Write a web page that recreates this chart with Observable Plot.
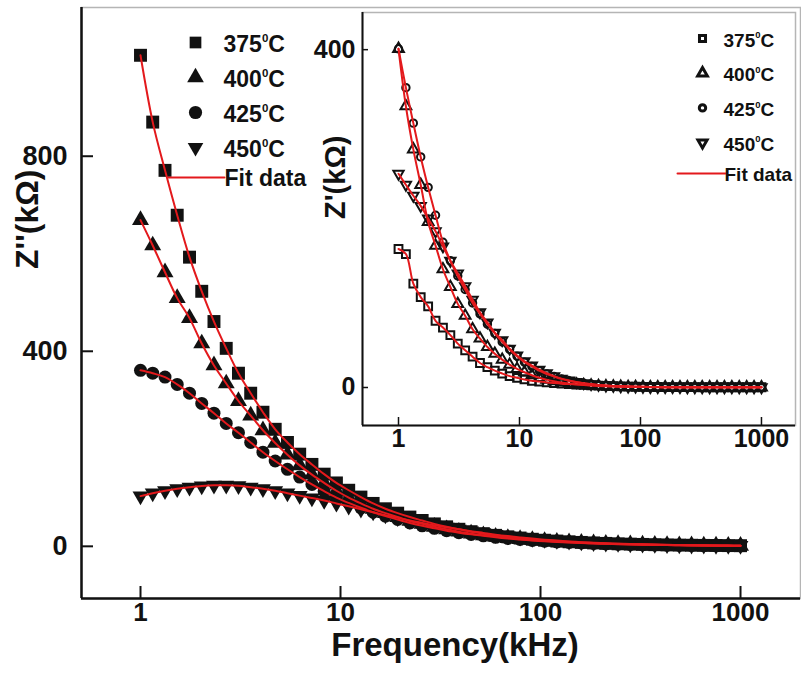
<!DOCTYPE html>
<html><head><meta charset="utf-8">
<script src="https://cdn.jsdelivr.net/npm/d3@7"></script>
<script src="https://cdn.jsdelivr.net/npm/@observablehq/plot@0.6"></script>
<style>
body{margin:0;background:#fff;}
#wrap{position:relative;width:801px;height:677px;overflow:hidden;background:#fff;}
#main,#inset{position:absolute;top:0;}
#main{left:0;} #inset{left:300px;}
</style></head><body><div id="wrap"><div id="main"></div><div id="inset"></div></div>
<script>
// ---------- data ----------
const freq = [1, 1.151, 1.326, 1.526, 1.758, 2.024, 2.330, 2.683, 3.089, 3.556, 4.095, 4.715, 5.429, 6.251, 7.197, 8.286, 9.541, 10.99, 12.65, 14.56, 16.77, 19.31, 22.23, 25.60, 29.47, 33.93, 39.07, 44.98, 51.79, 59.64, 68.66, 79.06, 91.03, 104.8, 120.7, 138.9, 160.0, 184.2, 212.1, 244.2, 281.2, 323.7, 372.8, 429.2, 494.2, 569.0, 655.1, 754.3, 868.5, 1000];
const seriesNames = ["375⁰C", "400⁰C", "425⁰C", "450⁰C"];
const fitLabel = "Fit data";

// Z'' (main panel), kΩ
const zImag375 = [1007, 870, 771, 679, 593, 523, 461, 406, 355, 314, 275, 240, 213, 189, 168, 148, 130, 115, 101, 88, 77, 68, 60, 53, 46, 40, 35, 30, 26, 22.5, 19.5, 17, 14.5, 12.5, 10.8, 9.3, 8, 7, 6, 5.2, 4.5, 3.9, 3.4, 2.9, 2.5, 2.2, 1.9, 1.7, 1.5, 1.3];
const zImag400 = [669, 617, 562, 509, 468, 416, 371, 334, 298, 268, 238, 212, 188, 166, 147, 130, 114, 100, 88, 77, 68, 60, 52, 46, 40, 35, 30, 26, 22.5, 19.5, 17, 14.7, 12.7, 11, 9.5, 8.2, 7.1, 6.2, 5.4, 4.7, 4.1, 3.5, 3.0, 2.6, 2.3, 2.0, 1.7, 1.5, 1.3, 1.1];
const zImag425 = [361, 355, 347, 332, 314, 293, 273, 252, 233, 213, 193, 175, 158, 142, 127, 113, 100, 89, 79, 70, 62, 55, 48, 42, 37, 32, 28, 24.5, 21.5, 18.5, 16, 14, 12, 10.4, 9, 7.8, 6.8, 5.9, 5.1, 4.4, 3.8, 3.3, 2.9, 2.5, 2.2, 1.9, 1.6, 1.4, 1.2, 1.1];
const zImag450 = [103, 109, 114, 118, 121, 123.5, 125, 125, 124, 121, 118, 114, 109, 104, 99, 94, 88, 82, 76, 70, 64, 58.5, 53, 48, 43, 39, 35, 31, 27.5, 24, 21, 18.3, 15.8, 13.6, 11.7, 10, 8.6, 7.4, 6.4, 5.5, 4.7, 4.1, 3.5, 3, 2.6, 2.3, 2, 1.7, 1.5, 1.3];

// Z' (inset), kΩ
const zReal375 = [164, 158, 123, 107, 96, 79, 71, 62, 52, 44, 36.5, 29, 24, 20, 16.5, 13.5, 11.5, 9.5, 8, 7, 6, 5.2, 4.5, 4, 3.5, 3, 2.6, 2.2, 1.9, 1.6, 1.3, 1.1, 0.9, 0.8, 0.7, 0.6, 0.5, 0.5, 0.4, 0.4, 0.4, 0.3, 0.3, 0.3, 0.3, 0.3, 0.3, 0.3, 0.3, 0.3];
const zReal400 = [401, 333, 282, 240, 196, 168, 140, 119, 99, 85, 69, 58, 48, 40, 33, 27, 22, 18, 14.5, 11.5, 9.3, 7.4, 5.9, 4.7, 3.7, 2.9, 2.3, 1.8, 1.4, 1.1, 0.9, 0.7, 0.6, 0.5, 0.4, 0.3, 0.3, 0.3, 0.2, 0.2, 0.2, 0.2, 0.2, 0.2, 0.2, 0.2, 0.2, 0.2, 0.2, 0.2];
const zReal425 = [401, 355, 313, 273, 237, 204, 172, 150, 132, 116, 100, 87, 75, 64, 54, 45, 37, 30, 25, 20, 16, 13, 10.2, 8, 6.3, 5, 3.9, 3, 2.3, 1.8, 1.4, 1.1, 0.9, 0.7, 0.6, 0.5, 0.4, 0.4, 0.4, 0.3, 0.3, 0.3, 0.3, 0.3, 0.3, 0.3, 0.3, 0.3, 0.3, 0.3];
const zReal450 = [253, 240, 227, 215, 200, 185, 167, 150, 135, 120, 104, 89, 77, 65, 56, 46, 38, 31, 26, 21, 17, 13.5, 10.5, 8.3, 6.5, 5.1, 4, 3.1, 2.4, 1.9, 1.5, 1.2, 1, 0.8, 0.6, 0.5, 0.4, 0.4, 0.4, 0.3, 0.3, 0.3, 0.3, 0.3, 0.3, 0.3, 0.3, 0.3, 0.3, 0.3];

const xTicks = [1, 10, 100, 1000];
const mainYTicks = [0, 400, 800];
const insetYTicks = [0, 400];
const mainXDomain = [0.507, 1995];
const mainYDomain = [-107, 1105];
const insetXDomain = [0.504, 1911];
const insetYDomain = [-45, 444];

// ---------- helpers ----------
const RED = "#e3191c";
const INK = "#111";
const FONT = "'Liberation Sans', Arial, sans-serif";
const sqrt3 = Math.sqrt(3);
const invTriangle = {draw(ctx, size) {
  const y = -Math.sqrt(size / (sqrt3 * 3));
  ctx.moveTo(0, -2 * y); ctx.lineTo(-sqrt3 * y, y); ctx.lineTo(sqrt3 * y, y); ctx.closePath();
}};
const hLine = {draw(ctx, l) { ctx.moveTo(0, 0); ctx.lineTo(0, -l); }};
const symbols = ["square", "triangle", "circle", invTriangle];
const rows = (vals, s) => freq.map((f, i) => ({f, z: vals[i], s}));
const mainSets = [zImag375, zImag400, zImag425, zImag450].map((v, k) => rows(v, seriesNames[k]));
const insetSets = [zReal375, zReal400, zReal425, zReal450].map((v, k) => rows(v, seriesNames[k]));

function legendMarks(o) {
  const m = [];
  seriesNames.forEach((name, k) => {
    m.push(Plot.dot([name], {frameAnchor: "top-left", dx: o.symX, dy: o.y0 + k * o.step,
      symbol: symbols[k], r: o.r[k], ...o.dotStyle}));
    m.push(Plot.text([name], {frameAnchor: "top-left", dx: o.textX, dy: o.y0 + k * o.step + 2,
      text: d => d, textAnchor: "start", lineAnchor: "middle", fontSize: o.fontSize, fontWeight: "bold", fill: INK}));
  });
  m.push(Plot.vector([fitLabel], {frameAnchor: "top-left", dx: o.lineX, dy: o.fitY, length: o.lineLen,
    rotate: 90, anchor: "start", shape: hLine, stroke: RED, strokeWidth: 2}));
  m.push(Plot.text([fitLabel], {frameAnchor: "top-left", dx: o.textX + 1, dy: o.fitY + 1,
    text: d => d, textAnchor: "start", lineAnchor: "middle", fontSize: o.fontSize, fontWeight: "bold", fill: INK}));
  return m;
}

function superscripts(svg) {
  const ns = "http://www.w3.org/2000/svg";
  svg.querySelectorAll("text").forEach(t => {
    const s = t.textContent;
    if (!s.includes("⁰")) return;
    const [a, b] = s.split("⁰");
    t.textContent = "";
    const t1 = document.createElementNS(ns, "tspan"); t1.textContent = a;
    const t2 = document.createElementNS(ns, "tspan"); t2.textContent = "0";
    t2.setAttribute("font-size", "0.5em"); t2.setAttribute("dy", "-0.88em");
    const t3 = document.createElementNS(ns, "tspan"); t3.textContent = b;
    t3.setAttribute("dy", "0.44em");
    t.append(t1, t2, t3);
  });
}

// ---------- main panel ----------
const W = 801, H = 677;
const mM = {top: 7, right: 1, bottom: 79, left: 81};
const mInnerW = W - mM.left - mM.right, mInnerH = H - mM.top - mM.bottom;
const mainDotR = [7.3, 6.3, 6.5, 5.9];

const mainMarks = [
  Plot.frame({stroke: "#b5b5b5", strokeWidth: 1.5}),
  ...mainSets.map((d, k) => Plot.dot(d, {x: "f", y: "z", symbol: symbols[k], r: mainDotR[k], fill: INK, stroke: null})),
  Plot.line(mainSets.flat(), {x: "f", y: "z", z: "s", stroke: RED, strokeWidth: 2, curve: "catmull-rom"}),
  Plot.ruleX([mainXDomain[0]], {stroke: INK, strokeWidth: 2.5}),
  Plot.ruleY([mainYDomain[0]], {stroke: INK, strokeWidth: 2.5}),
  Plot.tickX(xTicks, {x: d => d, insetTop: mInnerH - 12, stroke: INK, strokeWidth: 2}),
  Plot.tickY(mainYTicks, {y: d => d, insetRight: mInnerW - 12, stroke: INK, strokeWidth: 2}),
  Plot.text(xTicks, {x: d => d, frameAnchor: "bottom", dy: 22, text: d => String(d), fontSize: 26, fontWeight: "bold", fill: INK}),
  Plot.text(mainYTicks, {y: d => d, frameAnchor: "left", dx: -14, text: d => String(d), textAnchor: "end", fontSize: 27, fontWeight: "bold", fill: INK}),
  Plot.text(["Frequency(kHz)"], {frameAnchor: "bottom", dy: 57, dx: 14, text: d => d, fontSize: 33, fontWeight: "bold", fill: INK}),
  Plot.text(["Z''(kΩ)"], {frameAnchor: "left", dx: -54, dy: -34, rotate: -90, text: d => d, fontSize: 32, fontWeight: "bold", fill: INK}),
  ...legendMarks({symX: 114, textX: 142, y0: 35, step: 35, fitY: 170, lineX: 87, lineLen: 56, fontSize: 23,
    r: [6.6, 6.2, 6.6, 5.8], dotStyle: {fill: INK, stroke: null}})
];

const mainPlot = Plot.plot({
  width: W, height: H, marginTop: mM.top, marginRight: mM.right, marginBottom: mM.bottom, marginLeft: mM.left,
  x: {type: "log", domain: mainXDomain, axis: null},
  y: {domain: mainYDomain, axis: null},
  style: {fontFamily: FONT, background: "transparent", overflow: "visible"},
  marks: mainMarks
});
superscripts(mainPlot);
document.getElementById("main").append(mainPlot);

// ---------- inset panel ----------
const IW = 501, IH = 470;
const iM = {top: 12, right: 6, bottom: 45, left: 62};
const iInnerW = IW - iM.left - iM.right, iInnerH = IH - iM.top - iM.bottom;
const insetDotR = [4.4, 4.0, 3.7, 3.8];

const insetMarks = [
  Plot.frame({fill: "white", stroke: "#b5b5b5", strokeWidth: 1.5}),
  ...insetSets.map((d, k) => Plot.dot(d, {x: "f", y: "z", symbol: symbols[k], r: insetDotR[k], fill: "none", stroke: INK, strokeWidth: 2})),
  Plot.line(insetSets.flat(), {x: "f", y: "z", z: "s", stroke: RED, strokeWidth: 2, curve: "catmull-rom"}),
  Plot.ruleX([insetXDomain[0]], {stroke: INK, strokeWidth: 2}),
  Plot.ruleY([insetYDomain[0]], {stroke: INK, strokeWidth: 2}),
  Plot.tickX(xTicks, {x: d => d, insetTop: iInnerH - 8, stroke: INK, strokeWidth: 1.5}),
  Plot.tickY(insetYTicks, {y: d => d, insetRight: iInnerW - 6, stroke: INK, strokeWidth: 1.5}),
  Plot.text(xTicks, {x: d => d, frameAnchor: "bottom", dy: 21, text: d => String(d), fontSize: 25, fontWeight: "bold", fill: INK}),
  Plot.text(insetYTicks, {y: d => d, frameAnchor: "left", dx: -7, text: d => String(d), textAnchor: "end", fontSize: 25, fontWeight: "bold", fill: INK}),
  Plot.text(["Z'(kΩ)"], {frameAnchor: "left", dx: -27, dy: 0, rotate: -90, text: d => d, fontSize: 29, fontWeight: "bold", fill: INK}),
  ...legendMarks({symX: 340, textX: 361, y0: 26, step: 34.7, fitY: 161, lineX: 315, lineLen: 48, fontSize: 19,
    r: [3.4, 3.6, 3.2, 3.4], dotStyle: {fill: "none", stroke: INK, strokeWidth: 3}})
];

const insetPlot = Plot.plot({
  width: IW, height: IH, marginTop: iM.top, marginRight: iM.right, marginBottom: iM.bottom, marginLeft: iM.left,
  x: {type: "log", domain: insetXDomain, axis: null},
  y: {domain: insetYDomain, axis: null},
  style: {fontFamily: FONT, background: "transparent", overflow: "visible"},
  marks: insetMarks
});
superscripts(insetPlot);
document.getElementById("inset").append(insetPlot);
</script></body></html>
